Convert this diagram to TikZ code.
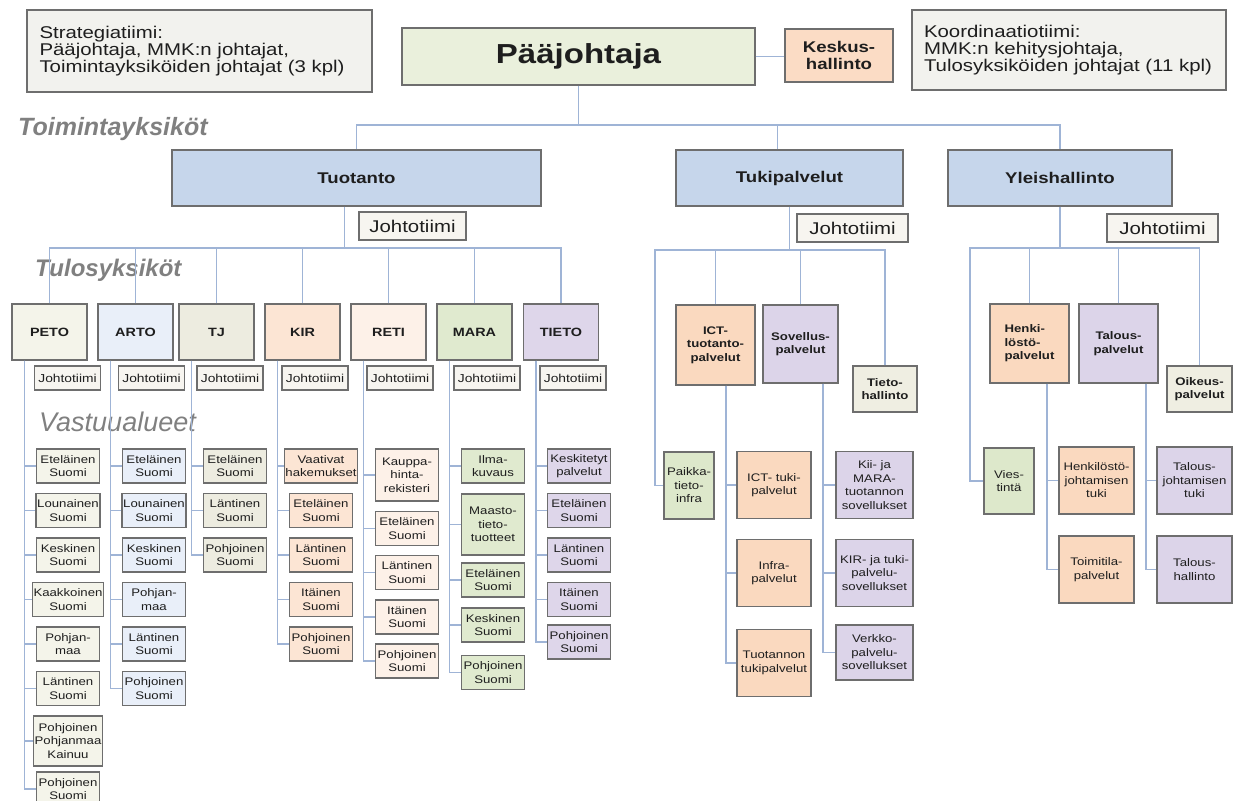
\documentclass[tikz,border=0pt]{standalone}
\usepackage{fontspec}
\setmainfont[FakeStretch=1.2]{Liberation Sans}
\newfontfamily\lblfont{Liberation Sans}
\newcommand\fsz[2]{\fontsize{#1}{#2}\selectfont}
\definecolor{lnc}{HTML}{9FB4D6}
\definecolor{bdc}{HTML}{6E6E6E}
\definecolor{txc}{HTML}{1E1E1E}
\definecolor{labc}{HTML}{808080}
\definecolor{teamc}{HTML}{F2F2EE}
\definecolor{paac}{HTML}{EAF0DC}
\definecolor{orc}{HTML}{FBDCC5}
\definecolor{divc}{HTML}{C6D6EB}
\definecolor{jtc}{HTML}{F7F5F0}
\definecolor{petoc}{HTML}{F4F4EA}
\definecolor{artoc}{HTML}{E9EFF9}
\definecolor{tjc}{HTML}{EDECE0}
\definecolor{kirc}{HTML}{FCE5D4}
\definecolor{retic}{HTML}{FDF1E8}
\definecolor{marac}{HTML}{E0EACF}
\definecolor{tietoc}{HTML}{DED6EA}
\definecolor{icc}{HTML}{FAD9BF}
\definecolor{sovc}{HTML}{DCD4E9}
\definecolor{grc}{HTML}{DDE8CB}
\definecolor{tihc}{HTML}{EFEEE2}
\tikzset{
ln/.style={draw=lnc,line width=1.5pt},
bx/.style={draw=bdc,line width=1.4pt,text=txc,align=center,inner sep=1pt,font=\fsz{11}{13.5}},
team/.style={bx,fill=teamc,align=left,font=\fsz{17}{17}},
div/.style={bx,fill=divc,minimum height=56pt,font=\fsz{15.5}{18}\bfseries},
bjt/.style={bx,fill=jtc,minimum height=28pt,font=\fsz{17}{20}},
unit/.style={bx,minimum width=75pt,minimum height=56pt,font=\fsz{12}{14}\bfseries},
sjt/.style={bx,fill=jtc,minimum width=66pt,minimum height=24pt,font=\fsz{11.5}{13}},
reg/.style={bx,minimum width=63pt,minimum height=34pt},
hd/.style={bx,font=\fsz{11}{13.5}\bfseries},
sub/.style={bx,minimum width=75pt,minimum height=67pt},
lbl/.style={text=labc,anchor=west,inner sep=0pt}
}
\begin{document}
\begin{tikzpicture}[x=1pt,y=-1pt]
\useasboundingbox (0,0) rectangle (1236,800);
\clip (0,0) rectangle (1236,800);

\node[team,minimum width=345pt,minimum height=82pt,text width=320pt] (strat) at (199.5,51) {Strategiatiimi:\\Pääjohtaja, MMK:n johtajat,\\Toimintayksiköiden johtajat (3 kpl)};
\node[team,minimum width=314pt,minimum height=80pt,text width=290pt] (koord) at (1069,50) {Koordinaatiotiimi:\\MMK:n kehitysjohtaja,\\Tulosyksiköiden johtajat (11 kpl)};
\node[bx,fill=paac,minimum width=353pt,minimum height=57pt,font=\fsz{27.5}{30}\bfseries] (paa) at (578.5,56.5) {Pääjohtaja};
\node[bx,fill=orc,minimum width=108pt,minimum height=53pt,font=\fsz{15.5}{17}\bfseries] (kesk) at (839,55.5) {Keskus-\\hallinto};

\node[lbl,font=\lblfont\fsz{25}{28}\bfseries\itshape] (toim) at (18,129) {Toimintayksiköt};
\node[lbl,font=\lblfont\fsz{24}{27}\bfseries\itshape] (tulos) at (35,270) {Tulosyksiköt};
\node[lbl,font=\lblfont\fsz{27}{30}\itshape] (vast) at (39,422) {Vastuualueet};

\node[div,minimum width=369pt] (tuot) at (356.5,178) {Tuotanto};
\node[div,minimum width=227pt] (tuki) at (789.5,178) {Tukipalvelut};
\node[div,minimum width=224pt] (yleis) at (1060,178) {Yleishallinto};
\node[bjt,minimum width=107pt] (jt1) at (412.5,226) {Johtotiimi};
\node[bjt,minimum width=111pt] (jt2) at (852.5,228) {Johtotiimi};
\node[bjt,minimum width=111pt] (jt3) at (1162.5,228) {Johtotiimi};

\node[unit,fill=petoc] (peto) at (49.5,332) {PETO};
\node[unit,fill=artoc] (arto) at (135.5,332) {ARTO};
\node[unit,fill=tjc] (tj) at (216.5,332) {TJ};
\node[unit,fill=kirc] (kir) at (302.5,332) {KIR};
\node[unit,fill=retic] (reti) at (388.5,332) {RETI};
\node[unit,fill=marac] (mara) at (474.5,332) {MARA};
\node[unit,fill=tietoc] (tieto) at (561,332) {TIETO};
\node[sjt] (pj) at (67.5,378) {Johtotiimi};
\node[sjt] (aj) at (151.5,378) {Johtotiimi};
\node[sjt] (tjj) at (230,378) {Johtotiimi};
\node[sjt] (kj) at (315,378) {Johtotiimi};
\node[sjt] (rj) at (400,378) {Johtotiimi};
\node[sjt] (mj) at (487,378) {Johtotiimi};
\node[sjt] (tij) at (573,378) {Johtotiimi};

\node[reg,fill=petoc] (p1) at (68,466) {Eteläinen\\Suomi};
\node[reg,fill=petoc] (p2) at (68,510.5) {Lounainen\\Suomi};
\node[reg,fill=petoc] (p3) at (68,555) {Keskinen\\Suomi};
\node[reg,fill=petoc] (p4) at (68,599.5) {Kaakkoinen\\Suomi};
\node[reg,fill=petoc] (p5) at (68,644) {Pohjan-\\maa};
\node[reg,fill=petoc] (p6) at (68,688.5) {Läntinen\\Suomi};
\node[reg,fill=petoc,minimum height=50pt] (p7) at (68,741) {Pohjoinen\\Pohjanmaa\\Kainuu};
\node[reg,fill=petoc] (p8) at (68,789) {Pohjoinen\\Suomi};

\node[reg,fill=artoc] (a1) at (154,466) {Eteläinen\\Suomi};
\node[reg,fill=artoc] (a2) at (154,510.5) {Lounainen\\Suomi};
\node[reg,fill=artoc] (a3) at (154,555) {Keskinen\\Suomi};
\node[reg,fill=artoc] (a4) at (154,599.5) {Pohjan-\\maa};
\node[reg,fill=artoc] (a5) at (154,644) {Läntinen\\Suomi};
\node[reg,fill=artoc] (a6) at (154,688.5) {Pohjoinen\\Suomi};

\node[reg,fill=tjc] (t1) at (235,466) {Eteläinen\\Suomi};
\node[reg,fill=tjc] (t2) at (235,510.5) {Läntinen\\Suomi};
\node[reg,fill=tjc] (t3) at (235,555) {Pohjoinen\\Suomi};

\node[reg,fill=kirc] (k1) at (321,466) {Vaativat\\hakemukset};
\node[reg,fill=kirc] (k2) at (321,510.5) {Eteläinen\\Suomi};
\node[reg,fill=kirc] (k3) at (321,555) {Läntinen\\Suomi};
\node[reg,fill=kirc] (k4) at (321,599.5) {Itäinen\\Suomi};
\node[reg,fill=kirc] (k5) at (321,644) {Pohjoinen\\Suomi};

\node[reg,fill=retic,minimum height=52pt] (r1) at (407,475) {Kauppa-\\hinta-\\rekisteri};
\node[reg,fill=retic] (r2) at (407,528.5) {Eteläinen\\Suomi};
\node[reg,fill=retic] (r3) at (407,572.5) {Läntinen\\Suomi};
\node[reg,fill=retic] (r4) at (407,617) {Itäinen\\Suomi};
\node[reg,fill=retic] (r5) at (407,661) {Pohjoinen\\Suomi};

\node[reg,fill=marac] (m1) at (493,466) {Ilma-\\kuvaus};
\node[reg,fill=marac,minimum height=61pt] (m2) at (493,524.5) {Maasto-\\tieto-\\tuotteet};
\node[reg,fill=marac] (m3) at (493,580) {Eteläinen\\Suomi};
\node[reg,fill=marac] (m4) at (493,625) {Keskinen\\Suomi};
\node[reg,fill=marac] (m5) at (493,672.5) {Pohjoinen\\Suomi};

\node[reg,fill=tietoc] (i1) at (579,466) {Keskitetyt\\palvelut};
\node[reg,fill=tietoc] (i2) at (579,510.5) {Eteläinen\\Suomi};
\node[reg,fill=tietoc] (i3) at (579,555) {Läntinen\\Suomi};
\node[reg,fill=tietoc] (i4) at (579,599.5) {Itäinen\\Suomi};
\node[reg,fill=tietoc] (i5) at (579,642) {Pohjoinen\\Suomi};

\node[hd,fill=icc,minimum width=79pt,minimum height=80pt] (ict) at (715.5,345) {ICT-\\tuotanto-\\palvelut};
\node[hd,fill=sovc,minimum width=75pt,minimum height=78pt] (sov) at (800.5,344) {Sovellus-\\palvelut};
\node[hd,fill=tihc,minimum width=64pt,minimum height=46pt] (tietoh) at (885,389) {Tieto-\\hallinto};
\node[bx,fill=grc,minimum width=50pt,minimum height=67pt] (paikka) at (689,485.5) {Paikka-\\tieto-\\infra};
\node[sub,fill=icc,minimum width=74pt] (ict1) at (774,485) {ICT- tuki-\\palvelut};
\node[sub,fill=icc,minimum width=74pt] (ict2) at (774,573) {Infra-\\palvelut};
\node[sub,fill=icc,minimum width=74pt] (ict3) at (774,663) {Tuotannon\\tukipalvelut};
\node[sub,fill=sovc,minimum width=77pt] (sov1) at (874.5,485) {Kii- ja\\MARA-\\tuotannon\\sovellukset};
\node[sub,fill=sovc,minimum width=77pt] (sov2) at (874.5,573) {KIR- ja tuki-\\palvelu-\\sovellukset};
\node[sub,fill=sovc,minimum width=77pt,minimum height=55pt] (sov3) at (874.5,652.5) {Verkko-\\palvelu-\\sovellukset};

\node[hd,fill=icc,minimum width=79pt,minimum height=79pt,align=left] (henk) at (1029.5,343.5) {Henki-\\löstö-\\palvelut};
\node[hd,fill=sovc,minimum width=79pt,minimum height=79pt] (tal) at (1118.5,343.5) {Talous-\\palvelut};
\node[hd,fill=tihc,minimum width=65pt,minimum height=46pt] (oik) at (1199.5,389) {Oikeus-\\palvelut};
\node[bx,fill=grc,minimum width=50pt,minimum height=66pt] (vies) at (1009,481) {Vies-\\tintä};
\node[sub,fill=icc] (hk1) at (1096.5,480.5) {Henkilöstö-\\johtamisen\\tuki};
\node[sub,fill=icc] (hk2) at (1096.5,569.5) {Toimitila-\\palvelut};
\node[sub,fill=sovc] (tl1) at (1194.5,480.5) {Talous-\\johtamisen\\tuki};
\node[sub,fill=sovc] (tl2) at (1194.5,569.5) {Talous-\\hallinto};

\coordinate (tt) at (0,125);
\coordinate (tb) at (0,248);
\coordinate (ps) at (655,250);
\coordinate (ys) at (970,248);

\draw[ln] (paa.east) -- (paa.east -| kesk.west);
\draw[ln] (paa.south) -- (paa.south |- tt);
\draw[ln] (tuot.north) |- (yleis.north |- tt) -- (yleis.north);
\draw[ln] (tuki.north) ++(-12,0) -- ++(0,-25);

\draw[ln] (tuot.south) ++(-12,0) -- ++(0,42);
\draw[ln] (peto.north) |- (tieto.north |- tb) -- (tieto.north);
\foreach \u in {arto,tj,kir,reti,mara}
  \draw[ln] (\u.north) -- (\u.north |- tb);
\foreach \n in {p1,p2,p3,p4,p5,p6,p7,p8}
  \draw[ln] (peto.south west) ++(13,0) |- (\n.west);
\foreach \n in {a1,a2,a3,a4,a5,a6}
  \draw[ln] (arto.south west) ++(13,0) |- (\n.west);
\foreach \n in {t1,t2,t3}
  \draw[ln] (tj.south west) ++(13,0) |- (\n.west);
\foreach \n in {k1,k2,k3,k4,k5}
  \draw[ln] (kir.south west) ++(13,0) |- (\n.west);
\foreach \n in {r1,r2,r3,r4,r5}
  \draw[ln] (reti.south west) ++(13,0) |- (\n.west);
\foreach \n in {m1,m2,m3,m4,m5}
  \draw[ln] (mara.south west) ++(13,0) |- (\n.west);
\foreach \n in {i1,i2,i3,i4,i5}
  \draw[ln] (tieto.south west) ++(13,0) |- (\n.west);

\draw[ln] (tuki.south) -- (tuki.south |- ps);
\draw[ln] (tietoh.north) |- (ps) |- (paikka.west);
\draw[ln] (ict.north) -- (ict.north |- ps);
\draw[ln] (sov.north) -- (sov.north |- ps);
\foreach \n in {ict1,ict2,ict3}
  \draw[ln] (ict.south) ++(10.5,0) |- (\n.west);
\foreach \n in {sov1,sov2,sov3}
  \draw[ln] (sov.south) ++(22.5,0) |- (\n.west);

\draw[ln] (yleis.south) -- (yleis.south |- ys);
\draw[ln] (oik.north) |- (ys) |- (vies.west);
\draw[ln] (henk.north) -- (henk.north |- ys);
\draw[ln] (tal.north) -- (tal.north |- ys);
\foreach \n in {hk1,hk2}
  \draw[ln] (henk.south) ++(17.5,0) |- (\n.west);
\foreach \n in {tl1,tl2}
  \draw[ln] (tal.south) ++(27.5,0) |- (\n.west);
\end{tikzpicture}
\end{document}
